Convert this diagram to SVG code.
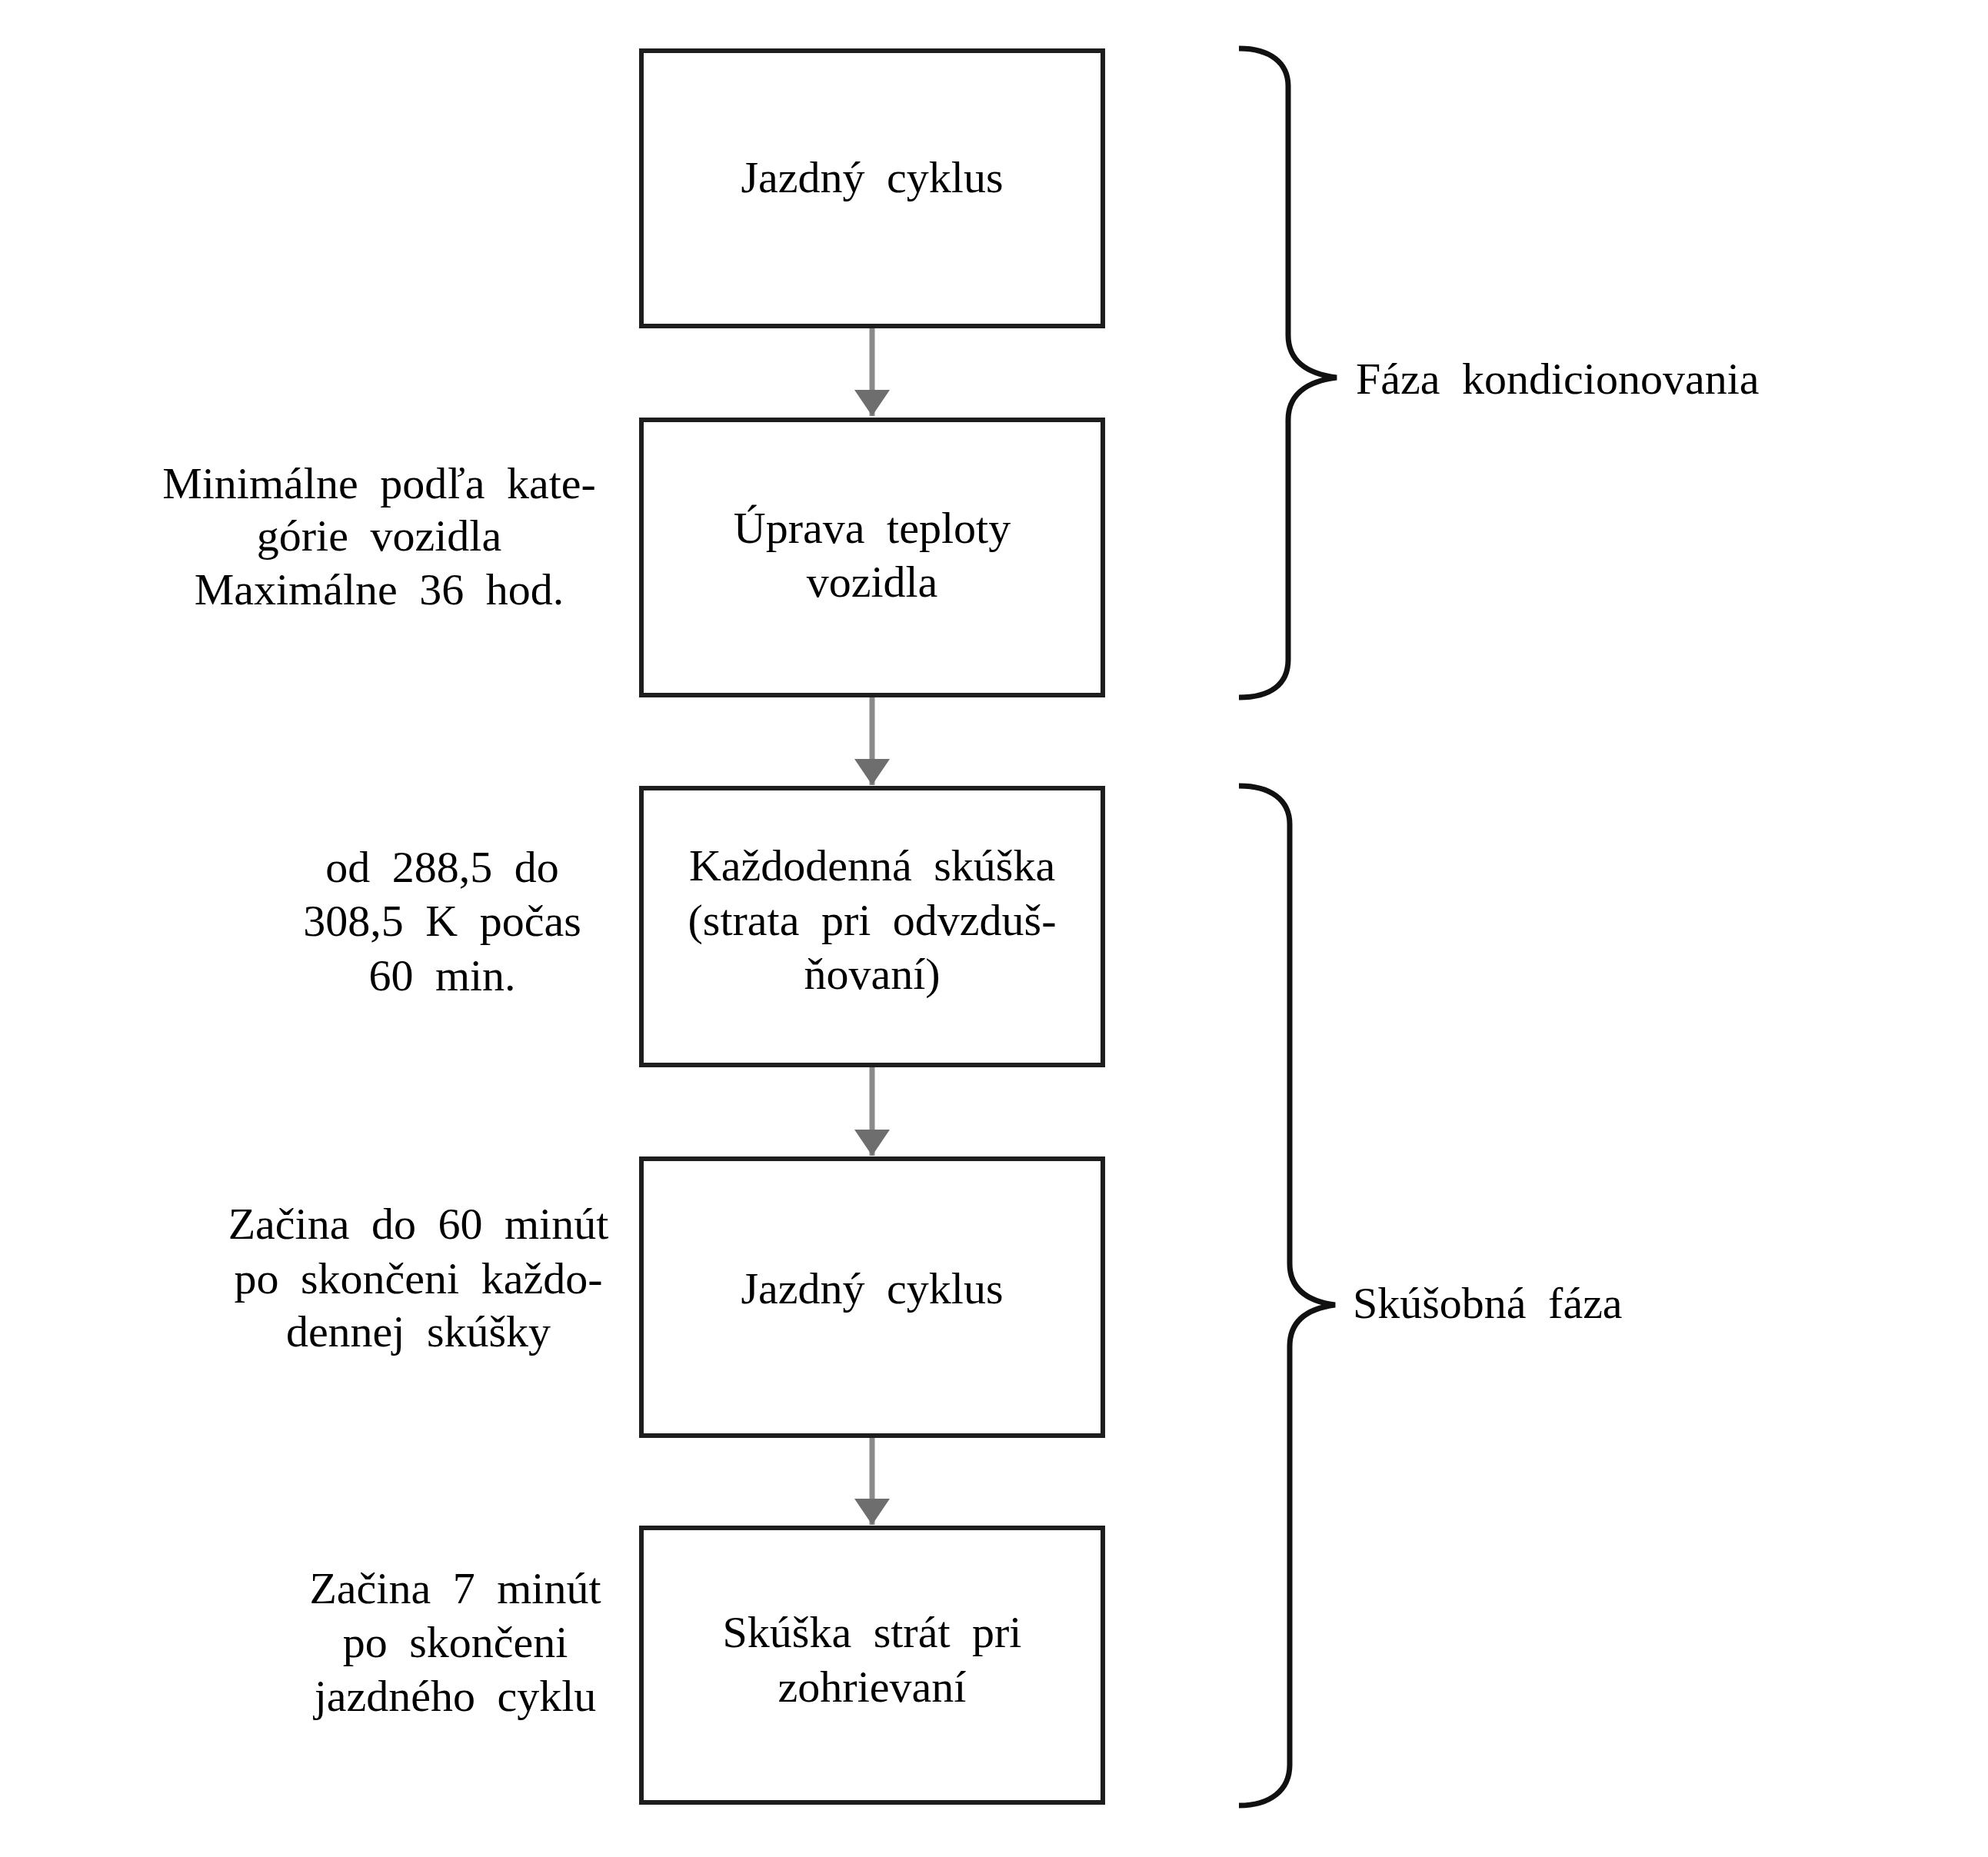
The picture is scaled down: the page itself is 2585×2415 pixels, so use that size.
<svg xmlns="http://www.w3.org/2000/svg" width="2585" height="2415" viewBox="0 0 2585 2415">
<style>
  .box { fill: #ffffff; stroke: #1e1e1e; stroke-width: 6; }
  .t { font-family: "Liberation Serif", "DejaVu Serif", serif; font-size: 58px; fill: #000; text-anchor: middle; word-spacing: 14px; }
  .tl { font-family: "Liberation Serif", "DejaVu Serif", serif; font-size: 58px; fill: #000; text-anchor: start; word-spacing: 14px; }
  .conn { stroke: #8a8a8a; stroke-width: 7; fill: none; marker-end: url(#ah); }
  .brace { fill: none; stroke: #111; stroke-width: 7; stroke-linejoin: miter; stroke-miterlimit: 4; }
</style>
<defs>
  <marker id="ah" markerUnits="userSpaceOnUse" markerWidth="34" markerHeight="46" refX="34" refY="23" orient="auto">
    <path d="M0,0 L34,23 L0,46 Z" fill="#6e6e6e"/>
  </marker>
</defs>
<rect width="2585" height="2415" fill="#ffffff"/>

<g id="connectors">
  <line class="conn" x1="1134" y1="427" x2="1134" y2="541"/>
  <line class="conn" x1="1134" y1="907" x2="1134" y2="1021"/>
  <line class="conn" x1="1134" y1="1388" x2="1134" y2="1503"/>
  <line class="conn" x1="1134" y1="1870" x2="1134" y2="1983"/>
</g>

<g id="node-jazdny-cyklus-1">
  <rect class="box" x="834" y="66" width="600" height="358"/>
  <text class="t" x="1134" y="250">Jazdný cyklus</text>
</g>
<g id="node-uprava-teploty">
  <rect class="box" x="834" y="546" width="600" height="358"/>
  <text class="t" x="1134" y="706">Úprava teploty</text>
  <text class="t" x="1134" y="776">vozidla</text>
</g>
<g id="node-kazdodenna-skuska">
  <rect class="box" x="834" y="1025" width="600" height="360"/>
  <text class="t" x="1134" y="1145">Každodenná skúška</text>
  <text class="t" x="1134" y="1216">(strata pri odvzduš-</text>
  <text class="t" x="1134" y="1286">ňovaní)</text>
</g>
<g id="node-jazdny-cyklus-2">
  <rect class="box" x="834" y="1507" width="600" height="360"/>
  <text class="t" x="1134" y="1695">Jazdný cyklus</text>
</g>
<g id="node-skuska-strat">
  <rect class="box" x="834" y="1987" width="600" height="357"/>
  <text class="t" x="1134" y="2142">Skúška strát pri</text>
  <text class="t" x="1134" y="2213">zohrievaní</text>
</g>

<g id="label-minimalne">
  <text class="t" x="493" y="648">Minimálne podľa kate-</text>
  <text class="t" x="493" y="716">górie vozidla</text>
  <text class="t" x="493" y="786">Maximálne 36 hod.</text>
</g>
<g id="label-od-288">
  <text class="t" x="575" y="1147">od 288,5 do</text>
  <text class="t" x="575" y="1217">308,5 K počas</text>
  <text class="t" x="575" y="1288">60 min.</text>
</g>
<g id="label-zacina-60">
  <text class="t" x="544" y="1611">Začina do 60 minút</text>
  <text class="t" x="544" y="1682">po skončeni každo-</text>
  <text class="t" x="544" y="1751">dennej skúšky</text>
</g>
<g id="label-zacina-7">
  <text class="t" x="592" y="2085">Začina 7 minút</text>
  <text class="t" x="592" y="2155">po skončeni</text>
  <text class="t" x="592" y="2225">jazdného cyklu</text>
</g>

<g id="brace-kondicionovanie">
  <path class="brace" d="M1611,63 C1652,63 1675,82 1675,112 L1675,436 C1675,468 1698,486 1738,491 C1698,496 1675,514 1675,546 L1675,858 C1675,890 1652,907 1611,907"/>
  <text class="tl" x="1763" y="512">Fáza kondicionovania</text>
</g>
<g id="brace-skusobna">
  <path class="brace" d="M1611,1022 C1652,1022 1677,1040 1677,1072 L1677,1643 C1677,1675 1698,1692 1736,1697 C1698,1702 1677,1719 1677,1751 L1677,2295 C1677,2328 1652,2348 1611,2348"/>
  <text class="tl" x="1759" y="1714">Skúšobná fáza</text>
</g>
</svg>
